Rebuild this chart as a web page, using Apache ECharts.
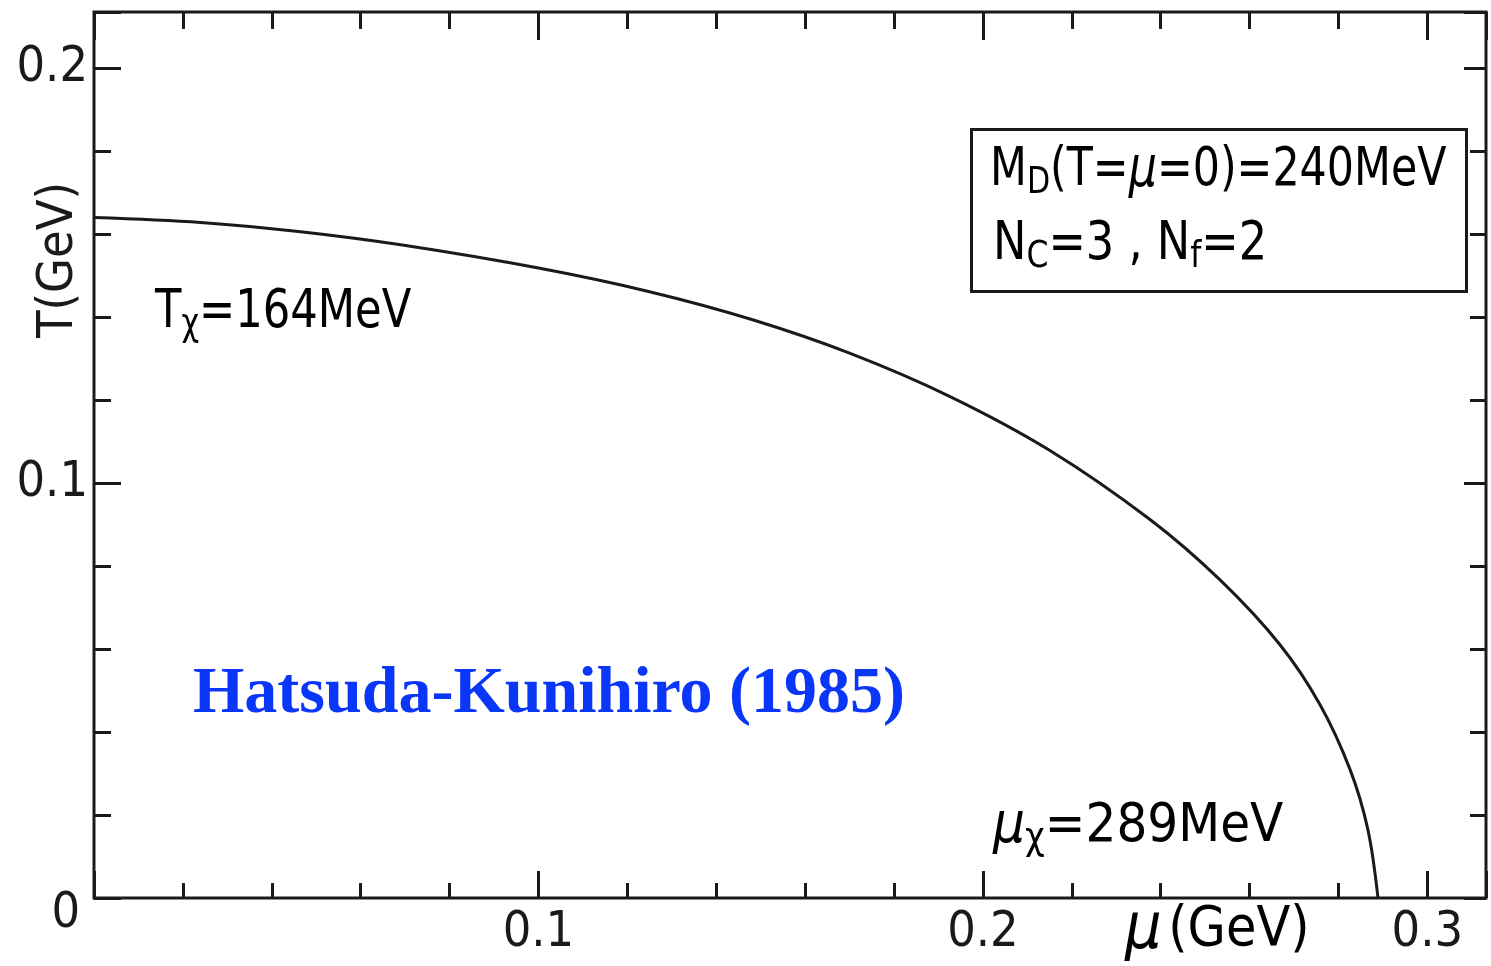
<!DOCTYPE html>
<html>
<head>
<meta charset="utf-8">
<script src="https://cdn.jsdelivr.net/npm/echarts@6/dist/echarts.min.js"></script>
<style>
  html, body { margin: 0; padding: 0; background: #ffffff; }
  #chart { width: 1491px; height: 966px; }
</style>
</head>
<body>
<div id="chart"></div>
<script>
// Chiral phase boundary T(mu) in the mean-field model
const muGeV = [0, 0.024, 0.046, 0.069, 0.100, 0.125, 0.148, 0.170, 0.1925, 0.215, 0.2376, 0.2533, 0.2668, 0.2758, 0.2826, 0.2866, 0.2889];
const TGeV  = [0.164, 0.1628, 0.1606, 0.1574, 0.1518, 0.1461, 0.1394, 0.1313, 0.1209, 0.1079, 0.0912, 0.0767, 0.0611, 0.0467, 0.0310, 0.0166, 0];

// axis ranges and labelled ticks
const xRange = [0, 0.3132];
const yRange = [0, 0.2135];
const xTickLabels = ['0.1', '0.2', '0.3'];
const yTickLabels = ['0', '0.1', '0.2'];

const INK = '#1a1a1a';
const SANS = "'Liberation Sans Narrow', 'DejaVu Sans Condensed', 'Liberation Sans', sans-serif";

function hasLabel(list, v) {
  return list.some(s => Math.abs(parseFloat(s) - v) < 1e-6);
}

function tickAxis(kind, position, interval, len, withLabels) {
  const ax = {
    type: 'value',
    position: position,
    min: kind === 'x' ? xRange[0] : yRange[0],
    max: kind === 'x' ? xRange[1] : yRange[1],
    interval: interval,
    axisLine: { show: false, onZero: false },
    splitLine: { show: false },
    axisTick: { show: true, inside: true, length: len, lineStyle: { color: INK, width: 3 } },
    axisLabel: { show: false }
  };
  if (withLabels) {
    ax.axisLabel = kind === 'x'
      ? {
          show: true, margin: 10, color: INK, fontFamily: SANS, fontSize: 50,
          formatter: v => (v > 0 && hasLabel(xTickLabels, v)) ? v.toFixed(1) : ''
        }
      : {
          show: true, margin: 6, color: INK, fontFamily: SANS, fontSize: 50,
          formatter: v => {
            if (!hasLabel(yTickLabels, v)) return '';
            return v === 0 ? '{z|0}' : v.toFixed(1);
          },
          rich: { z: { fontFamily: SANS, fontSize: 50, color: INK, padding: [32, 8, 0, 0] } }
        };
  }
  return ax;
}

const chart = echarts.init(document.getElementById('chart'), null, { renderer: 'canvas' });

const textRich = {
  m: { fontFamily: SANS, fontSize: 54, color: INK, lineHeight: 62 },
  g: { fontFamily: SANS, fontSize: 56, fontStyle: 'italic', color: INK, lineHeight: 62 },
  s: { fontFamily: SANS, fontSize: 38, color: INK, lineHeight: 38, verticalAlign: 'bottom' }
};

const option = {
  backgroundColor: '#ffffff',
  animation: false,
  grid: {
    left: 94, right: 5, top: 12, bottom: 68,
    containLabel: false, outerBoundsMode: 'none',
    show: true, borderColor: INK, borderWidth: 3, backgroundColor: 'transparent'
  },
  xAxis: [
    tickAxis('x', 'bottom', 0.1, 27, true),
    tickAxis('x', 'bottom', 0.02, 15, false),
    tickAxis('x', 'top', 0.1, 28, false),
    tickAxis('x', 'top', 0.02, 17, false)
  ],
  yAxis: [
    tickAxis('y', 'left', 0.1, 27, true),
    tickAxis('y', 'left', 0.02, 17, false),
    tickAxis('y', 'right', 0.1, 22, false),
    tickAxis('y', 'right', 0.02, 16, false)
  ],
  series: [{
    type: 'line',
    xAxisIndex: 0,
    yAxisIndex: 0,
    data: muGeV.map((m, i) => [m, TGeV[i]]),
    smooth: 0.35,
    showSymbol: false,
    lineStyle: { color: INK, width: 3 },
    z: 5
  }],
  graphic: [
    {
      // vertical axis title
      type: 'text', x: 84, y: 260, rotation: Math.PI / 2, z: 10,
      style: {
        text: 'T(GeV)', fontFamily: SANS, fontSize: 50, fill: INK,
        align: 'center', verticalAlign: 'bottom'
      }
    },
    {
      type: 'rect', left: 970, top: 128, z: 10,
      shape: { width: 495, height: 162 },
      style: { fill: 'transparent', stroke: INK, lineWidth: 3 }
    },
    {
      type: 'text', x: 990, y: 140, scaleX: 0.88, z: 10,
      style: { text: '{m|M}{s|D}{m|(T=}{g|μ}{m|=0)=240MeV}', rich: textRich }
    },
    {
      type: 'text', x: 993, y: 214, scaleX: 0.92, z: 10,
      style: { text: '{m|N}{s|C}{m|=3 , N}{s|f}{m|=2}', rich: textRich }
    },
    {
      type: 'text', x: 155, y: 282, scaleX: 0.89, z: 10,
      style: { text: '{m|T}{s|χ}{m|=164MeV}', rich: textRich }
    },
    {
      type: 'text', x: 993, y: 796, z: 10,
      style: { text: '{g|μ}{s|χ}{m|=289MeV}', rich: textRich }
    },
    {
      type: 'text', x: 1125, y: 900, z: 10,
      style: {
        text: '{g|μ}  {m|(GeV)}',
        rich: {
          m: { fontFamily: SANS, fontSize: 55, color: INK, lineHeight: 62 },
          g: { fontFamily: SANS, fontSize: 64, fontStyle: 'italic', color: INK, lineHeight: 62 }
        }
      }
    },
    {
      type: 'text', x: 193, y: 662, z: 10,
      style: {
        text: 'Hatsuda-Kunihiro (1985)',
        fontFamily: "'Liberation Serif', 'Times New Roman', serif",
        fontWeight: 'bold', fontSize: 66, fill: '#0a36f7'
      }
    }
  ]
};

chart.setOption(option);
</script>
</body>
</html>
